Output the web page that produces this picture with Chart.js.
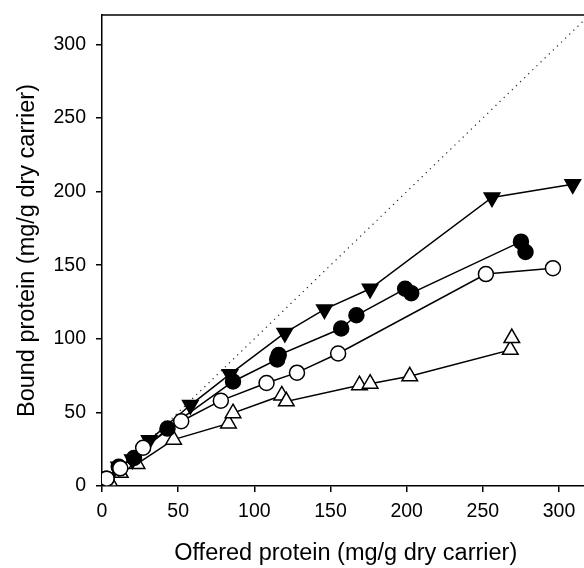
<!DOCTYPE html>
<html>
<head>
<meta charset="utf-8">
<script src="https://cdn.jsdelivr.net/npm/chart.js@4"></script>
<style>
  html, body { margin: 0; padding: 0; background: #fff; overflow: hidden; }
  #wrap { width: 584px; height: 568px; overflow: hidden; }
</style>
</head>
<body>
<div id="wrap"><canvas id="chart" width="600" height="568"></canvas></div>
<script>
// offered vs bound protein, four carriers
const downTriX = [4, 11, 20, 31, 58, 84, 120, 146, 176, 256, 309];
const downTriY = [5, 13, 18, 31, 55, 76, 104, 120, 134, 196, 205];

const dotX = [3, 11, 21, 43, 86, 115, 116, 157, 167, 199, 203, 275, 278];
const dotY = [5, 13, 19, 39, 71, 86, 89, 107, 116, 134, 131, 166, 159];

const circleX = [3, 12, 27, 52, 78, 108, 128, 155, 252, 296];
const circleY = [5, 12, 26, 44, 58, 70, 77, 90, 144, 148];

const upTriX = [5, 12, 23, 47, 83, 86, 118, 121, 169, 176, 202, 268, 269];
const upTriY = [3, 9, 15, 31.5, 42.5, 49.5, 61.5, 57.5, 68.5, 69.5, 74.5, 92.5, 100.5];

const diagX = [0, 320];
const diagY = [0, 320];

const xTicks = [0, 50, 100, 150, 200, 250, 300];
const yTicks = [0, 50, 100, 150, 200, 250, 300];

const pts = (xs, ys) => xs.map((x, i) => ({ x, y: ys[i] }));
const FONT = "'Liberation Sans', Arial, sans-serif";

const series = (data, style, fill, radius, rotation = 0) => ({
  data,
  showLine: true,
  borderColor: '#000',
  borderWidth: 1.5,
  pointStyle: style,
  pointRotation: rotation,
  pointRadius: radius,
  pointBackgroundColor: fill,
  pointBorderColor: '#000',
  pointBorderWidth: 1.5,
  tension: 0,
});

const topFrame = {
  id: 'topFrame',
  afterDraw(chart) {
    const { ctx, chartArea: a } = chart;
    ctx.save();
    ctx.strokeStyle = '#000';
    ctx.lineWidth = 1.5;
    ctx.beginPath();
    ctx.moveTo(a.left, a.top);
    ctx.lineTo(a.right, a.top);
    ctx.stroke();
    ctx.restore();
  },
};

new Chart(document.getElementById('chart'), {
  type: 'scatter',
  data: {
    datasets: [
      series(pts(circleX, circleY), 'circle', '#fff', 7.5),
      series(pts(dotX, dotY), 'circle', '#000', 7.5),
      series(pts(downTriX, downTriY), 'triangle', '#000', 9, 180),
      series(pts(upTriX, upTriY), 'triangle', '#fff', 9),
      {
        data: pts(diagX, diagY),
        showLine: true,
        borderColor: '#222',
        borderWidth: 1.2,
        borderDash: [1.2, 4.5],
        pointRadius: 0,
      },
    ],
  },
  options: {
    responsive: false,
    animation: false,
    layout: { padding: { top: 15, right: 10, left: 0, bottom: 0 } },
    plugins: { legend: { display: false }, tooltip: { enabled: false } },
    scales: {
      x: {
        type: 'linear',
        min: 0,
        max: 320,
        afterFit: s => { s.height = 82; s.paddingLeft = 0; s.paddingRight = 0; },
        afterBuildTicks: s => { s.ticks = xTicks.map(v => ({ value: v })); },
        border: { display: true, color: '#000', width: 1.5 },
        grid: { drawOnChartArea: false, drawTicks: true, tickLength: 6, color: '#000', lineWidth: 1.5 },
        ticks: { color: '#000', padding: 8, font: { family: FONT, size: 19.5 } },
        title: {
          display: true,
          text: 'Offered protein (mg/g dry carrier)',
          color: '#000',
          padding: { top: 0, bottom: 0 },
          font: { family: FONT, size: 23.5 },
        },
      },
      y: {
        type: 'linear',
        min: 0,
        max: 320,
        afterFit: s => { s.width = 102; s.paddingTop = 0; s.paddingBottom = 0; },
        afterBuildTicks: s => { s.ticks = yTicks.map(v => ({ value: v })); },
        border: { display: true, color: '#000', width: 1.5 },
        grid: { drawOnChartArea: false, drawTicks: true, tickLength: 6, color: '#000', lineWidth: 1.5 },
        ticks: { color: '#000', padding: 10, font: { family: FONT, size: 19.5 } },
        title: {
          display: true,
          text: 'Bound protein (mg/g dry carrier)',
          color: '#000',
          padding: { top: 13, bottom: 0 },
          font: { family: FONT, size: 23.5 },
        },
      },
    },
  },
  plugins: [topFrame],
});
</script>
</body>
</html>
